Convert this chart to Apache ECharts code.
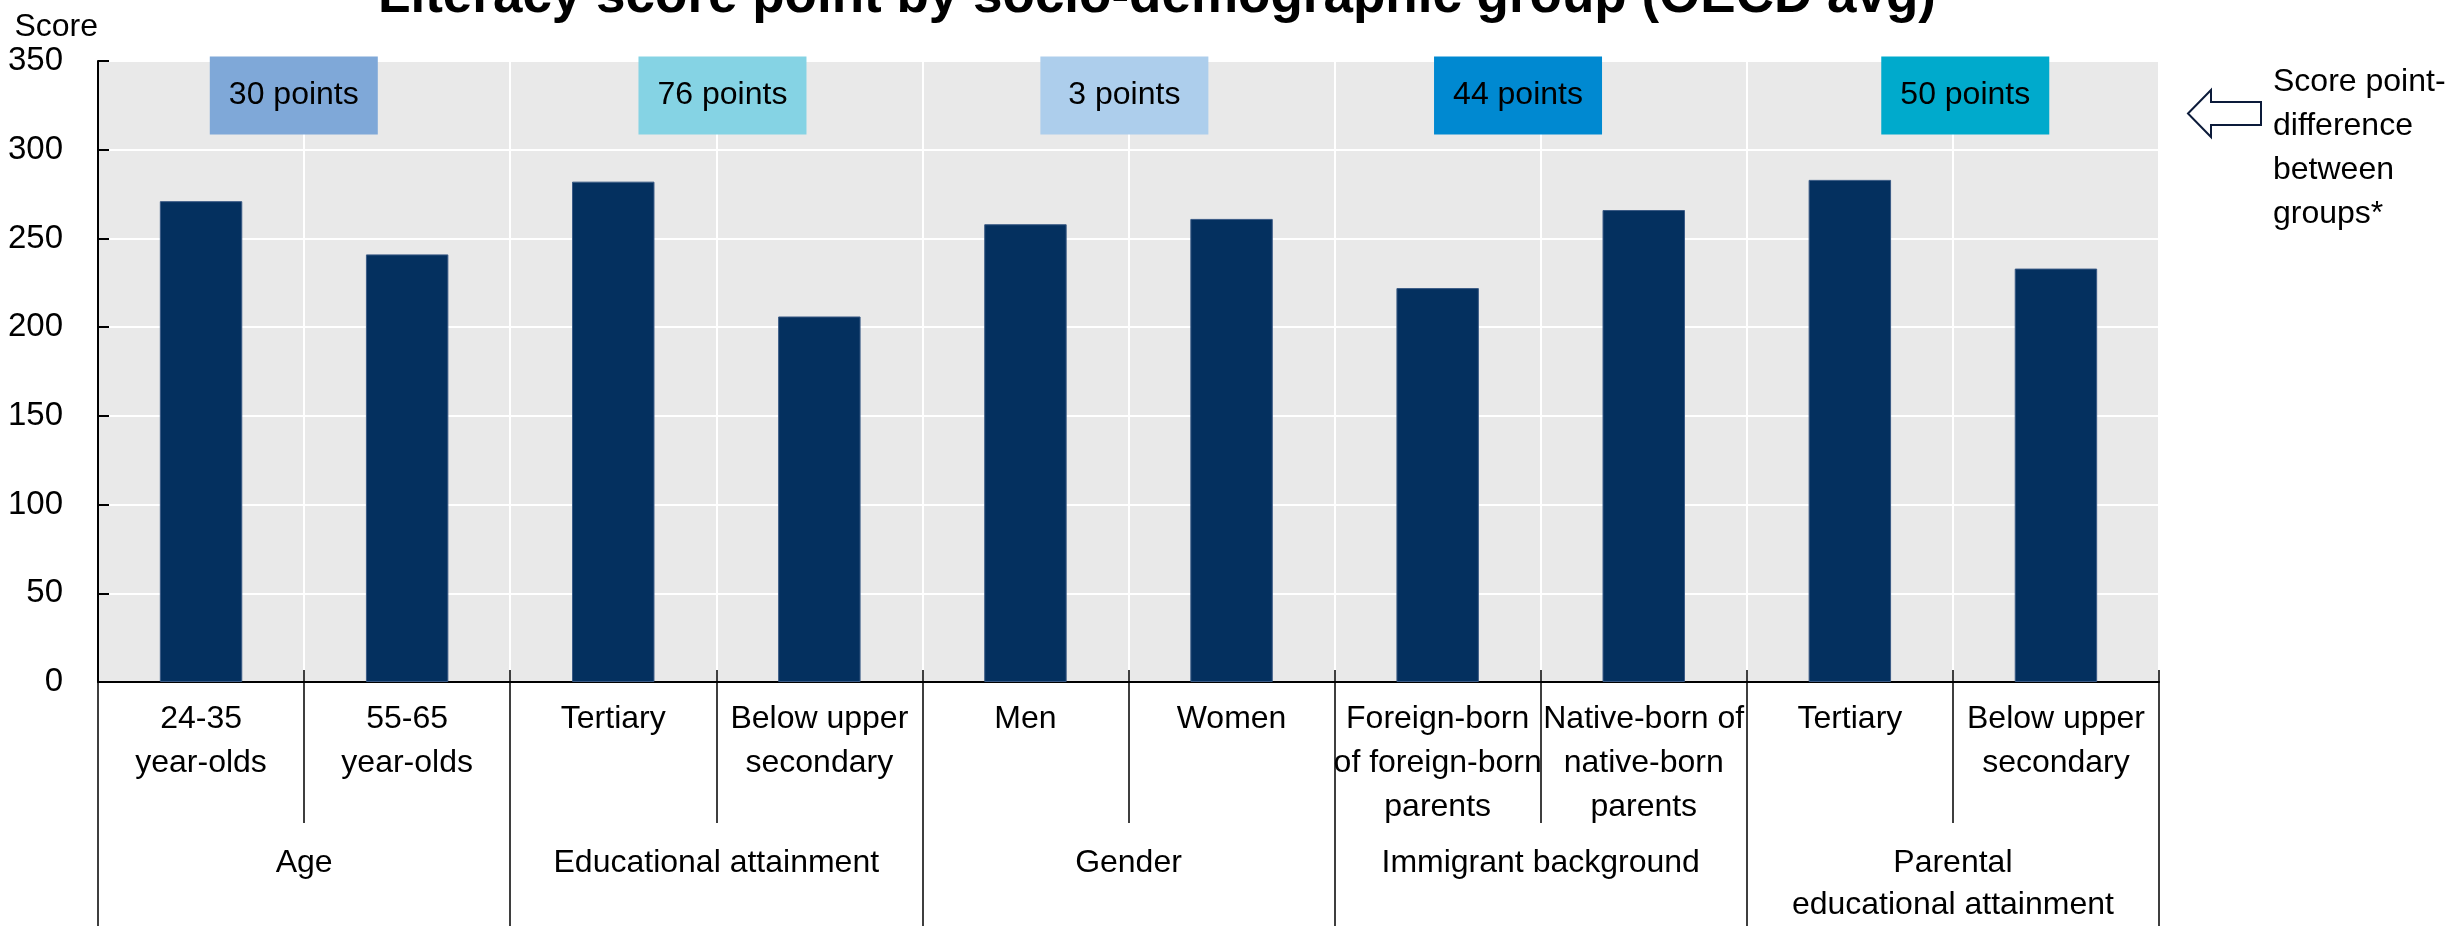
<!DOCTYPE html>
<html>
<head>
<meta charset="utf-8">
<script src="https://cdn.jsdelivr.net/npm/echarts@6/dist/echarts.min.js"></script>
<style>
html,body{margin:0;padding:0;background:#fff;}
#chart{width:2448px;height:926px;}
</style>
</head>
<body>
<div id="chart"></div>
<script>
// 数据
var categories=['24-35\nyear-olds','55-65\nyear-olds','Tertiary','Below upper\nsecondary','Men','Women',
	'Foreign-born\nof foreign-born\nparents','Native-born of\nnative-born\nparents','Tertiary','Below upper\nsecondary'];
var groups=['Age','Educational attainment','Gender','Immigrant background','Parental\neducational attainment'];
var scores=[271,241,282,206,258,261,222,266,283,233];
var diffLabels=['30 points','76 points','3 points','44 points','50 points'];

// 样式
var FONT="'Liberation Sans',Arial,sans-serif";
var boxColors=['#7FA8D8','#85D3E4','#ADCEEC','#0089D1','#00AACC'];
var boxNudge=[-0.05,0.03,-0.02,-0.11,0.06];//标签框的水平微调(按类目宽度)
var boxY=330.5;

var dom=document.getElementById('chart');
var myChart=echarts.init(dom,null,{renderer:'canvas'});

var boxData=diffLabels.map(function(t,i){
	return {value:[2*i+1+boxNudge[i],boxY],itemStyle:{color:boxColors[i],opacity:1}};
});

var option={
	animation:false,
	textStyle:{fontFamily:FONT},
	grid:{left:98,right:289,top:61,bottom:240,show:true,backgroundColor:'#E9E9E9',borderWidth:0},
	graphic:[
		{type:'text',x:1157,y:-3,style:{text:'Literacy score point by socio-demographic group (OECD avg)',
			font:'bold 53px '+FONT,fill:'#000',align:'center',verticalAlign:'middle'}},
		{type:'polygon',shape:{points:[[2188,113.5],[2211,90],[2211,102],[2261,102],[2261,125],[2211,125],[2211,137]]},
			style:{fill:'#fff',stroke:'#0C1B3A',lineWidth:2}},
		{type:'text',x:2273,y:60,style:{text:'Score point-\ndifference\nbetween\ngroups*',
			font:'32px '+FONT,fill:'#000',lineHeight:44,verticalAlign:'top'}}
	],
	xAxis:[
		{
			type:'category',data:categories,position:'bottom',
			axisLine:{lineStyle:{color:'#000',width:2}},
			axisTick:{show:true,interval:0,length:141,lineStyle:{color:'#000',width:1.5}},
			axisLabel:{interval:0,color:'#000',fontSize:32,lineHeight:44,margin:15,fontFamily:FONT},
			splitLine:{show:true,interval:0,lineStyle:{color:'#fff',width:2}}
		},
		{
			type:'category',data:categories,position:'bottom',
			axisLine:{show:false},
			axisTick:{show:true,inside:true,interval:0,length:12,lineStyle:{color:'#000',width:1.5}},
			axisLabel:{show:false},splitLine:{show:false}
		},
		{
			type:'category',data:groups,position:'bottom',
			axisLine:{show:false},
			axisTick:{show:true,interval:0,length:260,lineStyle:{color:'#000',width:1.5}},
			axisLabel:{interval:0,color:'#000',fontSize:32,lineHeight:42,margin:160,fontFamily:FONT},
			splitLine:{show:false}
		},
		{type:'value',min:0,max:10,show:false,position:'bottom'}
	],
	yAxis:{
		type:'value',min:0,max:350,interval:50,
		name:'Score',nameLocation:'end',nameGap:18,
		nameTextStyle:{color:'#000',fontSize:32,align:'right',fontFamily:FONT},
		axisLine:{show:true,lineStyle:{color:'#000',width:2}},
		axisTick:{show:true,inside:true,length:11,lineStyle:{color:'#000',width:2}},
		axisLabel:{color:'#000',fontSize:33,margin:35,fontFamily:FONT},
		splitLine:{lineStyle:{color:'#fff',width:2}}
	},
	series:[
		{
			name:'Score',type:'bar',xAxisIndex:0,data:scores,barWidth:'40%',
			itemStyle:{color:'#04305F',borderColor:'#3A5A85',borderWidth:1},
			silent:true
		},
		{
			name:'Difference',type:'scatter',xAxisIndex:3,yAxisIndex:0,data:boxData,
			symbol:'rect',symbolSize:[168,78],silent:true,z:5,
			label:{show:true,position:'inside',color:'#000',fontSize:32,fontFamily:FONT,
				formatter:function(p){return diffLabels[p.dataIndex];}}
		}
	]
};
myChart.setOption(option,true);
window.onresize=myChart.resize;
</script>
</body>
</html>
